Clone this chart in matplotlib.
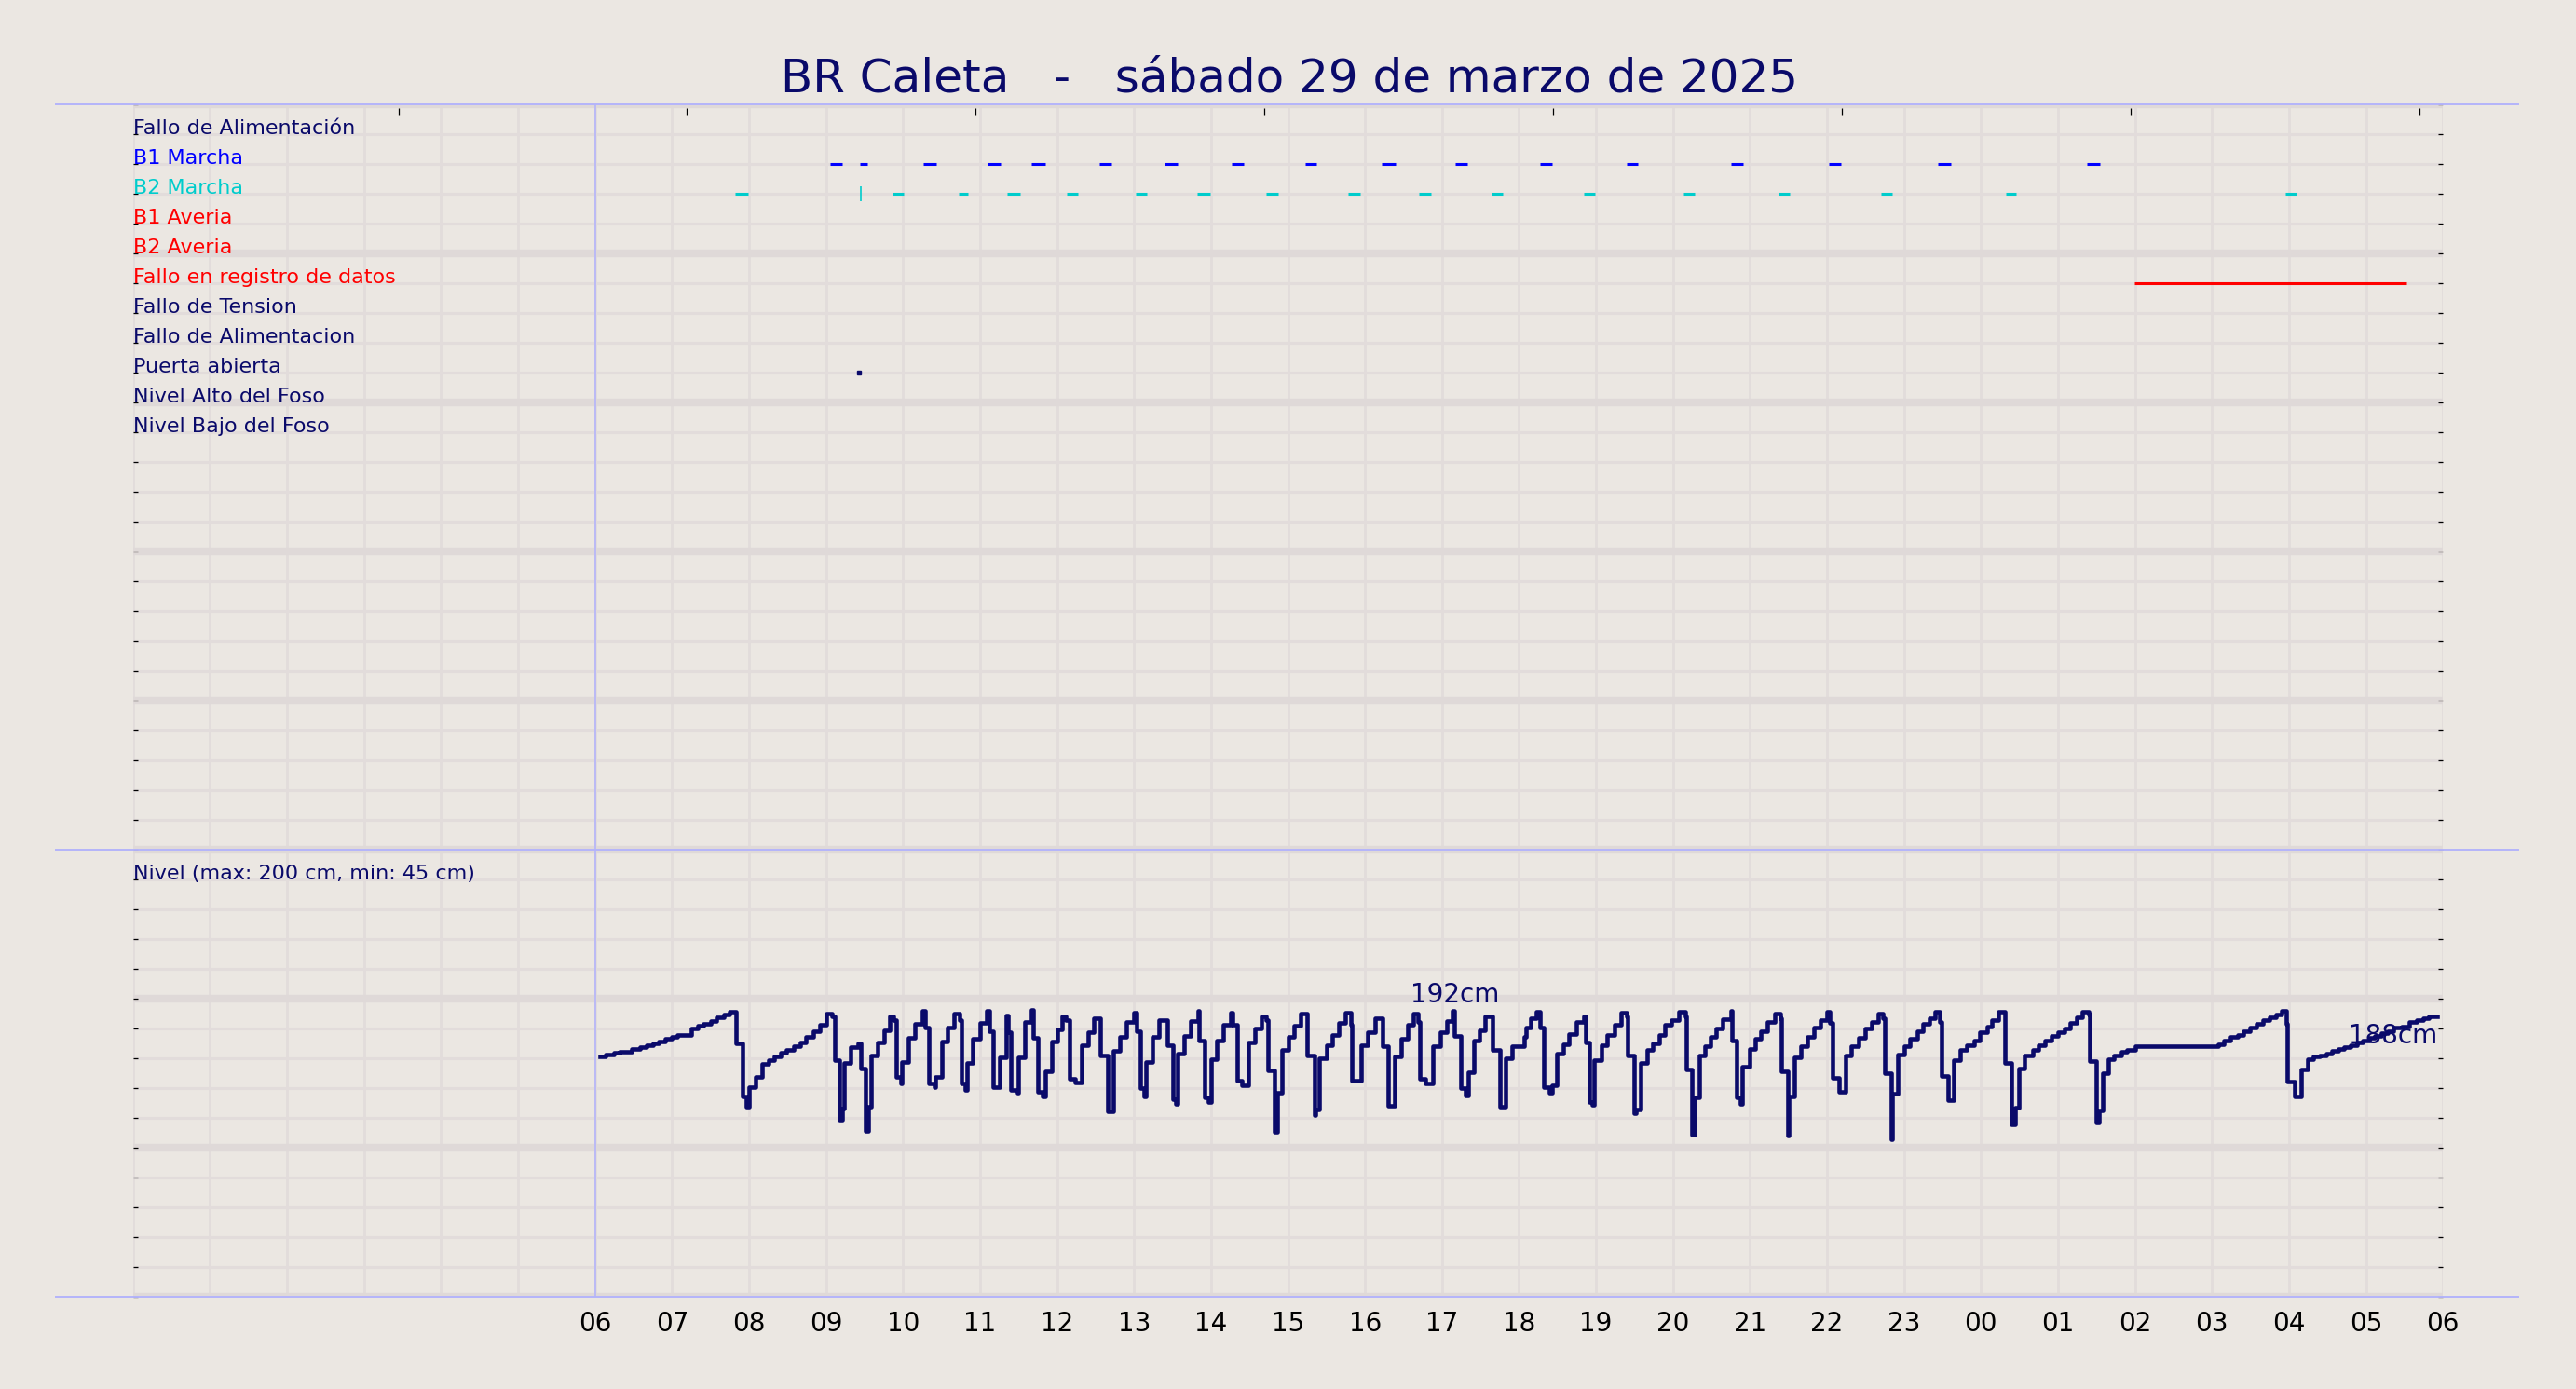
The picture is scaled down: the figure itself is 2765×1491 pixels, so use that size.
import matplotlib
matplotlib.use('Agg')
import matplotlib.pyplot as plt
from matplotlib.lines import Line2D

# Colours
fondo = '#ebe7e2'
rejilla = '#e2dcdb'
rejilla_mayor = '#dfd9d8'
lavanda = '#b4b4fa'
marino = '#0a0a6a'

titulo = 'BR Caleta   -   sábado 29 de marzo de 2025'

# Rows of the events panel (top row = 24)
eventos = ['Fallo de Alimentación', 'B1 Marcha', 'B2 Marcha', 'B1 Averia', 'B2 Averia',
           'Fallo en registro de datos', 'Fallo de Tension', 'Fallo de Alimentacion',
           'Puerta abierta', 'Nivel Alto del Foso', 'Nivel Bajo del Foso']
eventos_color = [marino, '#0000ff', '#00cccc', '#ff0000', '#ff0000', '#ff0000',
                 marino, marino, marino, marino, marino]

# Event intervals in hours since 00:00 of the 29th
b1_inicio = [9.053, 9.436, 10.263, 11.093, 11.661, 12.546, 13.393, 14.264, 15.22, 16.222,
             17.167, 18.269, 19.393, 20.748, 22.028, 23.443, 25.38]
b1_fin = [9.209, 9.533, 10.429, 11.267, 11.845, 12.713, 13.572, 14.431, 15.375, 16.395,
          17.335, 18.426, 19.549, 20.905, 22.185, 23.605, 25.54]
b2_inicio = [7.815, 9.862, 10.721, 11.348, 12.125, 13.016, 13.826, 14.712, 15.776, 16.698,
             17.648, 18.836, 20.132, 21.374, 22.707, 24.32, 27.95]
b2_fin = [7.988, 10.009, 10.84, 11.521, 12.266, 13.162, 13.988, 14.869, 15.933, 16.855,
          17.793, 18.981, 20.278, 21.52, 22.852, 24.45, 28.10]
b2_puntual = [9.452]
registro_inicio = [25.99]
registro_fin = [29.52]
puerta = [9.43]

# Pit level (cm), step values
nivel_h = [6.07, 6.14, 6.24, 6.32, 6.48, 6.58, 6.67, 6.75, 6.83, 6.91, 6.99, 7.07, 7.25, 7.33,
           7.41, 7.50, 7.58, 7.67, 7.75, 7.83, 7.92, 7.96, 8.00, 8.08, 8.17, 8.25, 8.33, 8.41,
           8.49, 8.58, 8.67, 8.74, 8.83, 8.92, 9.00, 9.08, 9.11, 9.17, 9.21, 9.24, 9.32, 9.41,
           9.45, 9.51, 9.55, 9.59, 9.67, 9.75, 9.83, 9.87, 9.91, 9.97, 9.99, 10.07, 10.15,
           10.25, 10.29, 10.33, 10.41, 10.42, 10.50, 10.58, 10.66, 10.74, 10.76, 10.81, 10.83,
           10.91, 11.00, 11.08, 11.12, 11.17, 11.26, 11.34, 11.37, 11.40, 11.48, 11.50, 11.58,
           11.67, 11.69, 11.75, 11.81, 11.85, 11.93,
           12.00, 12.06, 12.12, 12.16, 12.24, 12.32, 12.40, 12.48, 12.56, 12.66, 12.73, 12.82,
           12.90, 13.00, 13.03, 13.08, 13.13, 13.15, 13.24, 13.33, 13.43, 13.50, 13.54, 13.57,
           13.65, 13.73, 13.83, 13.85, 13.92, 13.96, 14.00, 14.08, 14.16, 14.25, 14.28, 14.34,
           14.40, 14.49, 14.57, 14.65, 14.71, 14.74, 14.83, 14.86, 14.92, 15.00, 15.08, 15.16,
           15.25, 15.34, 15.36, 15.41, 15.50, 15.58, 15.66, 15.74, 15.82, 15.83, 15.95, 16.03,
           16.13, 16.23, 16.30, 16.39, 16.47, 16.55, 16.63, 16.69, 16.71, 16.79, 16.88, 16.98,
           17.06, 17.14, 17.16, 17.24, 17.30, 17.34, 17.41, 17.49, 17.56, 17.66, 17.75, 17.83,
           17.91,
           18.07, 18.09, 18.15, 18.23, 18.27, 18.32, 18.40, 18.43, 18.49, 18.57, 18.65, 18.75,
           18.84, 18.86, 18.91, 18.95, 18.98, 19.07, 19.15, 19.24, 19.33, 19.40, 19.41, 19.49,
           19.52, 19.58, 19.66, 19.74, 19.82, 19.90, 19.98, 20.08, 20.16, 20.17, 20.25, 20.28,
           20.34, 20.41, 20.49, 20.56, 20.65, 20.75, 20.76, 20.83, 20.87, 20.90, 20.99, 21.07,
           21.14, 21.23, 21.32, 21.39, 21.41, 21.49, 21.50, 21.58, 21.66, 21.75, 21.83, 21.91,
           22.00, 22.04, 22.07, 22.16, 22.24, 22.32, 22.41, 22.50, 22.58, 22.66, 22.73, 22.75,
           22.83, 22.85, 22.92, 23.00, 23.08, 23.17, 23.25, 23.33, 23.40, 23.46, 23.49, 23.57,
           23.65, 23.73, 23.82, 23.91, 23.99,
           24.08, 24.14, 24.22, 24.31, 24.40, 24.44, 24.49, 24.57, 24.67, 24.75, 24.83, 24.91,
           25.00, 25.08, 25.16, 25.24, 25.32, 25.40, 25.41, 25.50, 25.53, 25.58, 25.65, 25.73,
           25.82, 25.90, 26.00, 27.08, 27.16, 27.24, 27.33, 27.41, 27.49, 27.58, 27.66, 27.75,
           27.83, 27.90, 27.96, 27.98, 28.07, 28.16, 28.24, 28.32, 28.40, 28.48, 28.56, 28.64,
           28.72, 28.80, 28.88, 28.96, 29.04, 29.12, 29.20, 29.28, 29.36, 29.46, 29.56, 29.66,
           29.74, 29.82, 29.93]
nivel_cm = [161.0, 162.5, 163.5, 164.6, 166.3, 167.3, 168.5, 170.0, 171.5, 172.9, 174.2, 175.8,
            179.8, 181.9, 183.1, 185.2, 187.3, 189.2, 191.3, 170.0, 134.2, 127.3, 140.8, 147.5,
            156.3, 159.0, 161.0, 163.8, 165.8, 167.9, 170.4, 174.2, 177.9, 182.5, 189.8, 188.3,
            159.0, 119.0, 126.3, 157.1, 167.3, 170.0, 153.3, 111.3, 127.3, 161.7, 170.4, 178.8,
            188.3, 185.6, 147.5, 143.3, 157.5, 173.8, 183.1, 191.9, 180.4, 143.3, 140.4, 147.5,
            171.5, 180.4, 189.8, 185.6, 143.3, 138.8, 157.1, 173.1, 183.5, 191.9, 178.3, 140.8,
            160.6, 188.8, 177.3, 138.8, 136.7, 160.6, 184.6, 192.5, 173.5, 137.7, 134.6, 151.3,
            171.0,
            179.4, 188.3, 185.6, 146.0, 144.0, 169.0, 177.7, 187.1, 161.7, 124.2, 164.8, 174.6,
            184.2, 190.8, 178.3, 139.8, 134.6, 157.5, 174.2, 185.6, 169.0, 132.5, 129.4, 163.3,
            175.2, 185.0, 191.9, 171.7, 133.5, 130.4, 159.6, 172.1, 182.5, 190.8, 182.5, 145.0,
            141.9, 170.4, 180.0, 188.3, 185.6, 151.7, 110.6, 136.7, 165.8, 174.2, 181.9, 189.8,
            161.7, 122.1, 125.8, 160.0, 169.0, 175.8, 183.5, 190.8, 182.5, 145.0, 169.0, 177.3,
            187.1, 167.9, 128.3, 161.3, 173.1, 182.5, 189.8, 184.6, 146.0, 143.3, 167.9, 177.3,
            185.0, 192.0, 175.2, 139.8, 135.0, 150.8, 172.1, 178.8, 188.3, 165.8, 127.3, 160.0,
            168.3,
            174.2, 180.8, 186.7, 191.3, 180.4, 140.8, 136.7, 141.9, 163.1, 169.4, 176.3, 184.2,
            188.3, 170.4, 130.8, 128.8, 159.0, 169.0, 175.8, 182.5, 190.4, 188.3, 161.7, 123.1,
            125.8, 157.1, 165.8, 170.0, 175.8, 182.5, 185.6, 191.3, 188.3, 152.3, 108.5, 133.5,
            161.7, 167.9, 174.2, 179.8, 186.3, 191.9, 171.7, 133.5, 129.4, 154.4, 166.3, 173.1,
            178.3, 184.2, 189.8, 187.1, 151.3, 107.9, 134.4, 160.4, 168.3, 174.6, 180.4, 185.6,
            191.3, 183.5, 147.1, 137.7, 161.9, 167.9, 173.5, 179.8, 184.6, 189.8, 186.7, 150.2,
            105.8, 136.3, 162.5, 167.9, 173.1, 177.9, 182.9, 187.1, 191.3, 184.6, 148.1, 132.1,
            158.5, 165.4, 168.5, 172.1, 177.3,
            181.5, 185.6, 191.3, 157.1, 115.8, 126.7, 153.3, 161.7, 165.8, 169.0, 172.1, 175.2,
            177.3, 180.0, 183.5, 187.7, 191.3, 189.2, 157.9, 116.9, 125.2, 150.2, 159.2, 162.1,
            164.2, 165.8, 167.9, 169.6, 172.1, 174.6, 175.8, 178.3, 180.4, 182.9, 185.6, 187.7,
            189.2, 191.9, 182.9, 144.6, 134.6, 152.3, 159.2, 161.3, 162.1, 163.3, 164.8, 166.3,
            167.5, 169.0, 170.4, 172.1, 173.8, 175.2, 176.7, 178.3, 180.4, 181.5, 184.6, 185.6,
            186.7, 188.0, 188.0]

nivel_titulo = 'Nivel (max: 200 cm, min: 45 cm)'
max_txt, max_h, max_cm = '192cm', 17.17, 194
fin_txt = '188cm'

hora_labels = ['06', '07', '08', '09', '10', '11', '12', '13', '14', '15', '16', '17', '18',
               '19', '20', '21', '22', '23', '00', '01', '02', '03', '04', '05', '06']
top_ticks = [3.445, 7.195, 10.945, 14.695, 18.445, 22.195, 25.945, 29.695]

W, H = 2765, 1491
fig = plt.figure(figsize=(W / 100, H / 100), dpi=100, facecolor=fondo)
left, width = 142.8 / W, 2479.4 / W
ax1 = fig.add_axes([left, 1 - 912 / H, width, 800 / H])
ax2 = fig.add_axes([left, 1 - 1392 / H, width, 480 / H])

# Odd ticks along the top of the events panel (twin made first, y axis left alone)
axt = ax1.twiny()

for ax, ymax, ymaj, ymin_step in [(ax1, 25, 5, 1), (ax2, 300, 100, 20)]:
    ax.set_facecolor(fondo)
    ax.set_xlim(0, 30)
    ax.set_ylim(0, ymax)
    ax.set_xticks(range(0, 31))
    ax.set_yticks(range(0, ymax + 1, ymaj))
    ax.set_yticks(range(0, ymax + 1, ymin_step), minor=True)
    ax.grid(True, axis='x', which='major', color=rejilla, linewidth=2.0)
    ax.grid(True, axis='y', which='major', color=rejilla_mayor, linewidth=6.0)
    ax.grid(True, axis='y', which='minor', color=rejilla, linewidth=2.2)
    ax.set_axisbelow(True)
    for s in ax.spines.values():
        s.set_visible(False)
    ax.tick_params(axis='y', which='both', direction='in', length=3.8, width=0.9,
                   color='black', left=True, right=True, labelleft=False)
    ax.tick_params(axis='x', length=0)
    ax.axvline(6, color=lavanda, linewidth=1.2, zorder=1.5)

ax1.set_xticklabels([])
ax2.set_xticklabels([''] * 6 + hora_labels)
ax2.tick_params(axis='x', labelsize=20, pad=11, labelcolor='black')

axt.set_xlim(0, 30)
axt.set_xticks(top_ticks)
axt.set_xticklabels([])
for s in axt.spines.values():
    s.set_visible(False)
axt.spines['top'].set_position(('outward', -3))
axt.tick_params(axis='x', direction='in', length=5, width=0.9, color='black')

# Events panel
filas = list(range(24, 24 - len(eventos), -1))
for fila, nombre, col in zip(filas, eventos, eventos_color):
    ax1.text(0, fila, nombre, color=col, fontsize=16, ha='left', va='baseline')

ax1.hlines([filas[1]] * len(b1_inicio), b1_inicio, b1_fin, colors='#0000ff',
           linewidth=2.2, capstyle='butt', zorder=3)
ax1.hlines([filas[2]] * len(b2_inicio), b2_inicio, b2_fin, colors='#00cccc',
           linewidth=2.2, capstyle='butt', zorder=3)
ax1.plot(b2_puntual, [filas[2]] * len(b2_puntual), linestyle='none', marker='|',
         markersize=12, markeredgewidth=1.2, color='#00cccc', zorder=3)
ax1.hlines([filas[5]] * len(registro_inicio), registro_inicio, registro_fin,
           colors='#ff0000', linewidth=2.2, capstyle='butt', zorder=3)
ax1.plot(puerta, [filas[8]] * len(puerta), linestyle='none', marker='s', markersize=2.4,
         color=marino, zorder=3)

# Level panel
ax2.text(0, 280, nivel_titulo, color=marino, fontsize=16, ha='left', va='baseline')
ax2.plot(nivel_h, nivel_cm, drawstyle='steps-post', color=marino, linewidth=3.3, zorder=3)
ax2.text(max_h, max_cm, max_txt, color=marino, fontsize=20, ha='center', va='bottom')
ax2.text(nivel_h[-1], nivel_cm[-1] - 4, fin_txt, color=marino, fontsize=20,
         ha='right', va='top', zorder=4)

# Frame lines across the figure
for yy in [112, 912, 1392]:
    fig.add_artist(Line2D([60 / W, 2703 / W], [1 - yy / H, 1 - yy / H],
                          color=lavanda, linewidth=1.4))

fig.text(0.5006, 1 - 98.7 / H, titulo, color=marino, fontsize=36,
         ha='center', va='baseline')

fig.savefig('out.png', dpi=100, facecolor=fondo)
